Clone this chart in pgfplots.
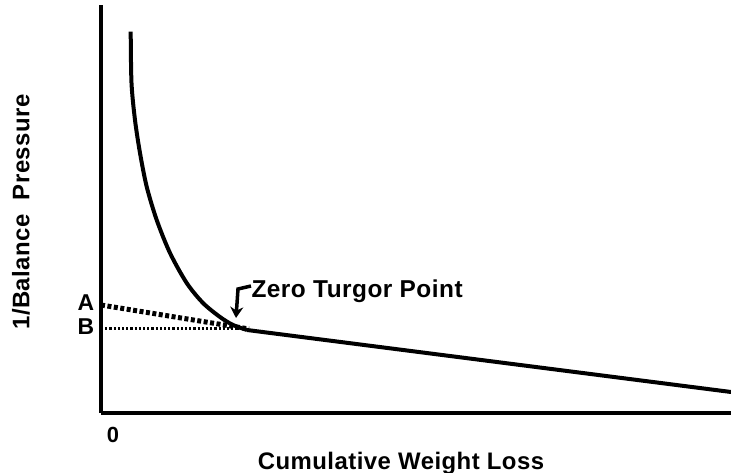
\documentclass[border=0pt]{standalone}
\usepackage{pgfplots}
\pgfplotsset{compat=1.18}
\usetikzlibrary{arrows.meta}
\usepackage{fontspec}
\setmainfont{Liberation Sans}
\newfontfamily\lab[LetterSpace=2]{Liberation Sans}
\begin{document}
\begin{tikzpicture}[x=1bp,y=1bp]
\useasboundingbox (0,0) rectangle (731,473);
\begin{axis}[
  at={(101bp,60bp)}, anchor=south west,
  scale only axis, width=630bp, height=408bp,
  xmin=0, xmax=630, ymin=0, ymax=408,
  axis x line=bottom, axis y line=left,
  axis line style={line width=3.5bp, -},
  xtick=\empty, ytick=\empty,
  clip=false,
]
\addplot[black, line width=4bp, smooth, tension=0.5] coordinates {
 (29.7,381.3) (30.5,330) (34,293) (39,260) (45.7,226.3) (55.7,193)
 (69,160) (85.7,130) (102,110) (119,96) (132,88) (146,83)};
\addplot[black, line width=4bp] coordinates {(146,83) (630,21)};
\addplot[black, line width=5bp, dash pattern=on 4bp off 2.5bp] coordinates {(0,108) (148,84)};
\addplot[black, line width=3bp, dash pattern=on 2.2bp off 2bp] coordinates {(0,84) (146,84)};
\draw[line width=3.5bp, -{Stealth[length=11bp,width=13bp]}] (axis cs:150,127) -- (axis cs:137,124) -- (axis cs:135,95);
\node[font=\lab\bfseries\fontsize{24.5}{24.5}\selectfont, anchor=west] at (axis cs:147,122) {Zero Turgor Point};
\node[font=\lab\bfseries\fontsize{23}{23}\selectfont] at (axis cs:-15,110) {A};
\node[font=\lab\bfseries\fontsize{23}{23}\selectfont] at (axis cs:-15,86) {B};
\node[font=\lab\bfseries\fontsize{22}{22}\selectfont] at (axis cs:12,-22) {0};
\node[font=\lab\bfseries\fontsize{24}{24}\selectfont] at (axis cs:300,-50) {Cumulative Weight Loss};
\node[font=\lab\bfseries\fontsize{24}{24}\selectfont, rotate=90] at (axis cs:-80,201) {1/Balance\ \ Pressure};
\end{axis}
\end{tikzpicture}
\end{document}
